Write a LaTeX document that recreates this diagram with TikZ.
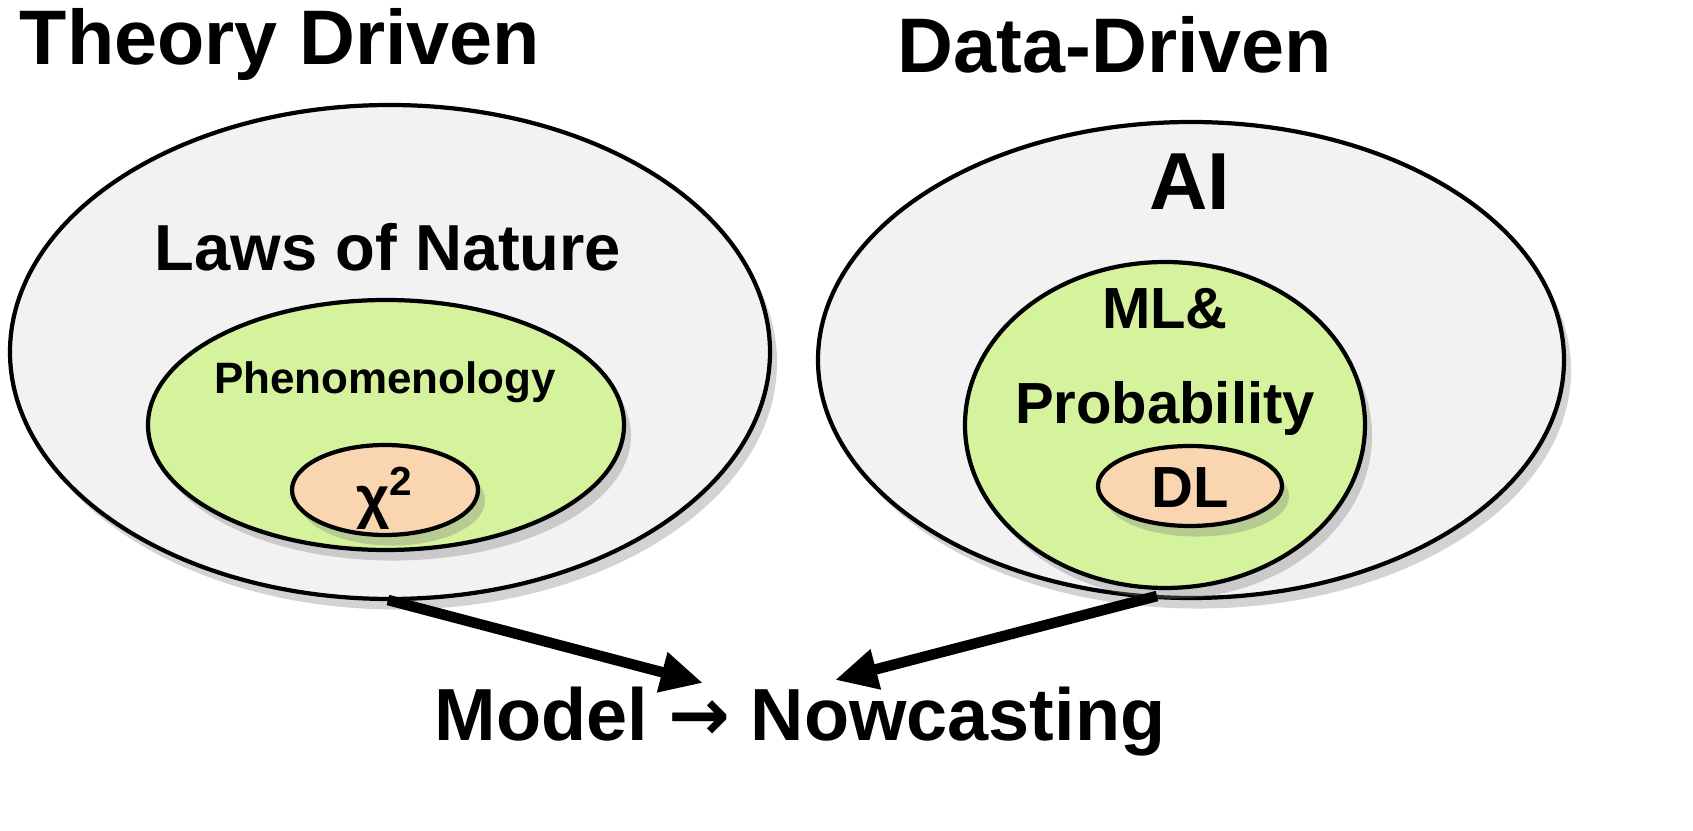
\documentclass[tikz,border=0pt]{standalone}
\usepackage{fontspec}
\setmainfont{Liberation Sans}
\newfontfamily\arrowfont{DejaVu Sans}
\usetikzlibrary{shadows,arrows.meta}
\definecolor{bggray}{HTML}{F2F2F2}
\definecolor{lgreen}{HTML}{D5F29C}
\definecolor{lorange}{HTML}{FAD6B0}
\begin{document}
\begin{tikzpicture}[x=0.01cm,y=-0.01cm,
  ell/.style={draw=black,line width=1.2pt,drop shadow={shadow xshift=2pt,shadow yshift=-3pt,opacity=0.35}},
  lbl/.style={font=\bfseries},
  arr/.style={line width=3pt,-{Triangle[length=12pt,width=11pt]}}]
\useasboundingbox (0,0) rectangle (1693,831);
\path[ell,fill=bggray] (390,352) ellipse [x radius=380,y radius=247];
\path[ell,fill=lgreen] (386,425) ellipse [x radius=238,y radius=125];
\path[ell,fill=lorange] (385,490) ellipse [x radius=93,y radius=45];
\path[ell,fill=bggray] (1191,360) ellipse [x radius=373,y radius=238];
\path[ell,fill=lgreen] (1165,425) ellipse [x radius=200,y radius=163];
\path[ell,fill=lorange] (1190,486) ellipse [x radius=92,y radius=40];
\node[lbl,font=\bfseries\fontsize{22}{26}\selectfont] (t1) at (280,45) {Theory Driven};
\node[lbl,font=\bfseries\fontsize{22}{26}\selectfont] (t2) at (1115,45) {Data-Driven};
\node[lbl,font=\bfseries\fontsize{18.5}{22}\selectfont] (laws) at (388,247) {Laws of Nature};
\node[lbl,font=\bfseries\fontsize{23}{26}\selectfont] (ai) at (1190,182) {AI};
\node[lbl,font=\bfseries\fontsize{12.5}{15}\selectfont] (ph) at (385,382) {Phenomenology};
\node[lbl,font=\bfseries\fontsize{16.5}{27}\selectfont,align=center] (ml) at (1165,362) {ML\&\\Probability};
\node[lbl,font=\bfseries\fontsize{16.5}{20}\selectfont] (chi) at (385,498) {χ\textsuperscript{2}};
\node[lbl,font=\bfseries\fontsize{16.5}{20}\selectfont] (dl) at (1190,488) {DL};
\node[lbl,font=\bfseries\fontsize{21}{25}\selectfont] (nc) at (800,722) {Model {\arrowfont\bfseries →} Nowcasting};
\coordinate (a1) at (388,600);
\coordinate (a2) at (1157,596);
\draw[arr] (a1) -- (703,683);
\draw[arr] (a2) -- (835,680);
\end{tikzpicture}
\end{document}
